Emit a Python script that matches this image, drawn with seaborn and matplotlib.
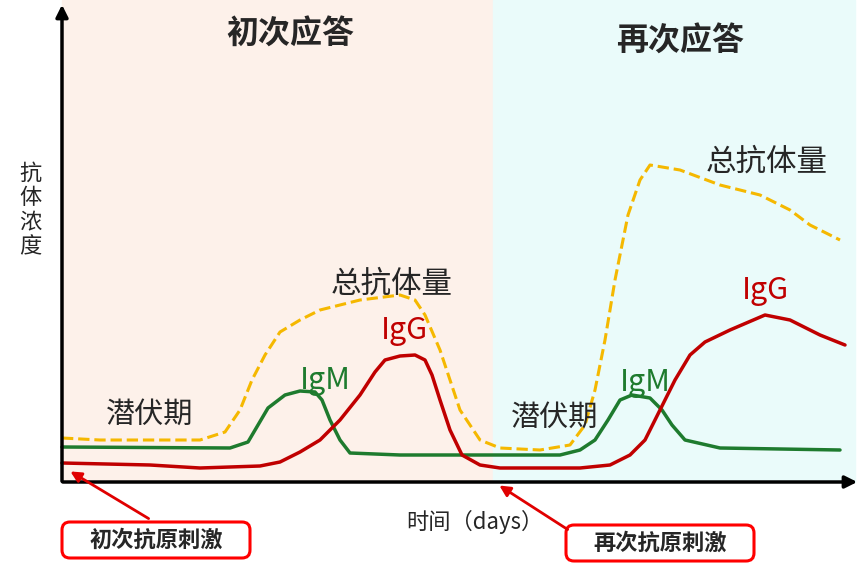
import matplotlib
matplotlib.use("Agg")
import matplotlib.pyplot as plt
import seaborn as sns
import pandas as pd
from matplotlib.patches import FancyBboxPatch

sns.set_style("white")
plt.rcParams['font.family'] = ['Noto Sans CJK SC', 'DejaVu Sans']

H = 567
total_x = [62,100,200,225,240,252,265,280,300,320,360,400,415,425,440,460,480,500,540,570,585,595,605,615,628,640,650,680,720,760,790,810,840]
total_y = [438,440,440,432,410,380,355,332,320,310,300,295,300,315,350,410,440,448,450,445,425,390,340,280,215,180,165,170,185,195,210,225,240]
igm_x = [62,230,248,258,268,285,300,315,322,330,340,350,400,480,560,580,595,608,620,632,650,662,672,685,720,840]
igm_y = [447,448,442,425,408,395,391,392,400,420,440,453,455,455,455,450,440,420,400,395,398,410,425,440,448,450]
igg_x = [62,150,200,260,280,300,320,340,360,375,385,400,415,425,432,440,450,462,480,500,580,610,630,645,660,675,690,705,730,765,790,820,845]
igg_y = [463,465,468,466,462,452,440,420,395,372,360,356,355,360,375,400,430,455,465,468,468,465,455,440,410,380,355,342,330,315,320,335,345]

fig = plt.figure(figsize=(8.6, 5.67), dpi=100)
ax = fig.add_axes([0, 0, 1, 1])
ax.set_xlim(0, 860)
ax.set_ylim(0, H)
ax.axis('off')

ax.axvspan(62, 493, ymin=(H-482)/H, ymax=1, color='#FDF1EA', zorder=0)
ax.axvspan(493, 855, ymin=(H-482)/H, ymax=1, color='#EAFBFA', zorder=0)

def df(x, y):
    return pd.DataFrame({'x': x, 'y': [H - v for v in y]})

sns.lineplot(data=df(total_x, total_y), x='x', y='y', ax=ax, color='#F5B800', lw=2.2, linestyle='--', sort=False)
sns.lineplot(data=df(igm_x, igm_y), x='x', y='y', ax=ax, color='#1E7B2E', lw=2.5, sort=False)
sns.lineplot(data=df(igg_x, igg_y), x='x', y='y', ax=ax, color='#C00000', lw=2.5, sort=False)
ax.set_xlabel(''); ax.set_ylabel('')

ax.annotate('', xy=(62, H-2), xytext=(62, H-484), arrowprops=dict(arrowstyle='-|>', color='black', lw=2.5, mutation_scale=18))
ax.annotate('', xy=(860, H-482), xytext=(60, H-482), arrowprops=dict(arrowstyle='-|>', color='black', lw=2.5, mutation_scale=18))

ax.text(290, H-35, '初次应答', fontsize=23, fontweight='bold', ha='center', va='center')
ax.text(680, H-42, '再次应答', fontsize=23, fontweight='bold', ha='center', va='center')
for (x, y) in [(767, 162), (392, 284)]:
    ax.text(x, H-y, '总抗体量', fontsize=22, ha='center', va='center')
for (x, y) in [(404, 330), (765, 290)]:
    ax.text(x, H-y, 'IgG', fontsize=22, color='#C00000', ha='center', va='center')
for (x, y) in [(325, 380), (645, 382)]:
    ax.text(x, H-y, 'IgM', fontsize=22, color='#1E7B2E', ha='center', va='center')
for (x, y) in [(150, 415), (555, 418)]:
    ax.text(x, H-y, '潜伏期', fontsize=21, ha='center', va='center')
ax.text(30, H-210, '抗\n体\n浓\n度', fontsize=16, ha='center', va='center', linespacing=1.1)
ax.text(475, H-522, '时间（days）', fontsize=16, ha='center', va='center')

for (cx, cy, txt, tip) in [(156, 540, '初次抗原刺激', (68, 470)), (660, 543, '再次抗原刺激', (497, 484))]:
    ax.add_patch(FancyBboxPatch((cx-92, H-cy-16), 184, 32, boxstyle='round,pad=2,rounding_size=8',
                                fc='white', ec='#FF0000', lw=2.2, zorder=3))
    ax.text(cx, H-cy, txt, fontsize=16, fontweight='bold', ha='center', va='center', zorder=4)
    start = (cx-5, H-cy+20) if cx < 300 else (cx-90, H-cy+12)
    ax.annotate('', xy=(tip[0], H-tip[1]), xytext=start,
                arrowprops=dict(arrowstyle='-|>', color='#E00000', lw=2, mutation_scale=16))

fig.savefig('out.png', dpi=100)
